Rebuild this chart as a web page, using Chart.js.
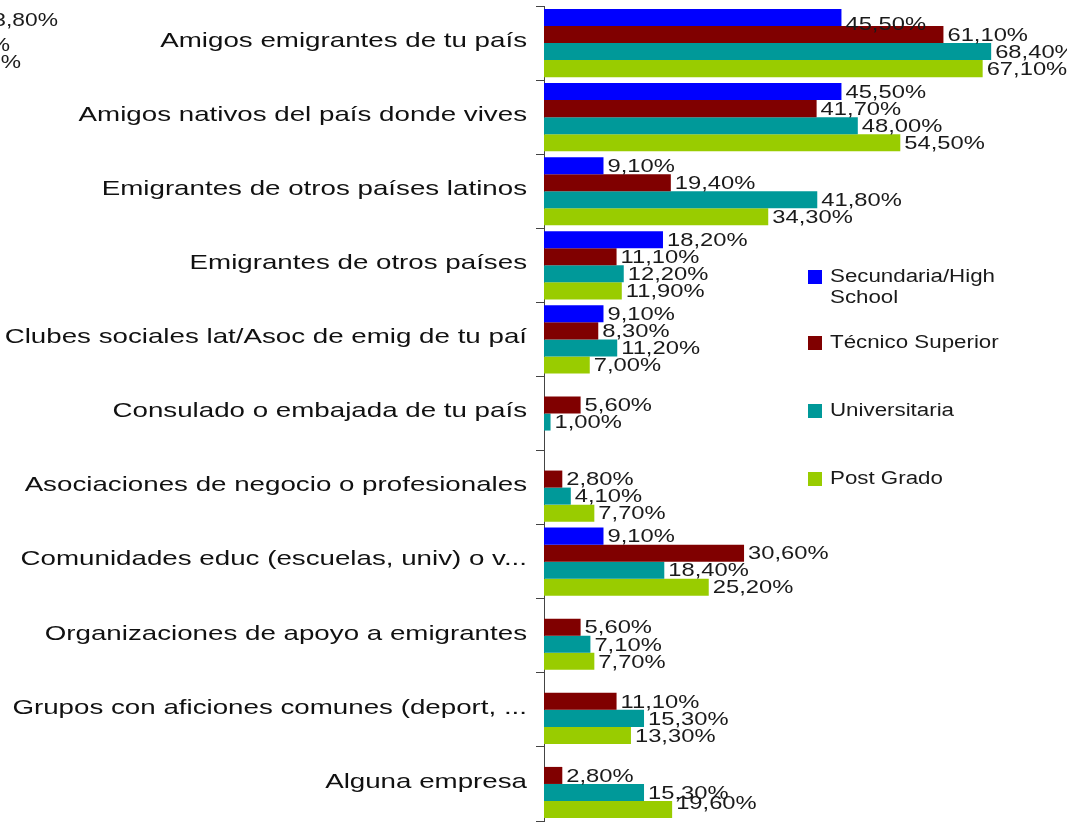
<!DOCTYPE html>
<html>
<head>
<meta charset="utf-8">
<script src="https://cdn.jsdelivr.net/npm/chart.js@4/dist/chart.umd.min.js"></script>
<style>
  html, body { margin: 0; padding: 0; background: #fff; }
  #wrap { width: 1067px; height: 822px; position: relative; }
</style>
</head>
<body>
<div id="wrap"><canvas id="chart"></canvas></div>
<script>
const categories = [
  'Amigos emigrantes de tu país',
  'Amigos nativos del país donde vives',
  'Emigrantes de otros países latinos',
  'Emigrantes de otros países',
  'Clubes sociales lat/Asoc de emig de tu paí',
  'Consulado o embajada de tu país',
  'Asociaciones de negocio o profesionales',
  'Comunidades educ (escuelas, univ) o v...',
  'Organizaciones de apoyo a emigrantes',
  'Grupos con aficiones comunes (deport, ...',
  'Alguna empresa'
];
const seriesNames = ['Secundaria/High School', 'Técnico Superior', 'Universitaria', 'Post Grado'];
const secundaria = [45.5, 45.5, 9.1, 18.2, 9.1, 0, 0, 9.1, 0, 0, 0];
const tecnico = [61.1, 41.7, 19.4, 11.1, 8.3, 5.6, 2.8, 30.6, 5.6, 11.1, 2.8];
const universitaria = [68.4, 48.0, 41.8, 12.2, 11.2, 1.0, 4.1, 18.4, 7.1, 15.3, 15.3];
const postGrado = [67.1, 54.5, 34.3, 11.9, 7.0, 0, 7.7, 25.2, 7.7, 13.3, 19.6];
const seriesColors = ['#0000ff', '#800000', '#009999', '#99cc00'];
// stray labels cut off at the top-left edge of the original image
const strayLabels = ['3,80%', '%', '0%'];

const FONT = '"Liberation Sans", Arial, sans-serif';
const fmt = v => v.toFixed(2).replace('.', ',') + '%';

// the original text looks stretched sideways, so draw it with a x-scale
function wideText(ctx, text, x, y, sx) {
  ctx.save();
  ctx.translate(x, y);
  ctx.scale(sx, 1);
  ctx.fillText(text, 0, 0);
  ctx.restore();
}

const catLabels = {
  id: 'catLabels',
  afterDraw(chart) {
    const {ctx} = chart;
    const y = chart.scales.y;
    ctx.save();
    ctx.font = '21px ' + FONT;
    ctx.fillStyle = '#111';
    ctx.textAlign = 'right';
    ctx.textBaseline = 'middle';
    chart.data.labels.forEach((lab, i) => {
      wideText(ctx, lab, 527, y.getPixelForValue(i) - 2, 1.32);
    });
    ctx.restore();
  }
};

const valueLabels = {
  id: 'valueLabels',
  afterDatasetsDraw(chart) {
    const {ctx} = chart;
    ctx.save();
    ctx.font = '19px ' + FONT;
    ctx.fillStyle = '#1a1a1a';
    ctx.textAlign = 'left';
    ctx.textBaseline = 'middle';
    chart.data.datasets.forEach((ds, i) => {
      chart.getDatasetMeta(i).data.forEach((bar, j) => {
        const v = ds.data[j];
        if (!v) return;
        // keep labels inside the picture, like the original does
        const ly = Math.min(Math.max(bar.y + 1, 25), chart.height - 18);
        wideText(ctx, fmt(v), bar.x + 4, ly, 1.25);
      });
    });
    ctx.textAlign = 'right';
    wideText(ctx, strayLabels[0], 58, 21, 1.2);
    wideText(ctx, strayLabels[1], 10, 46, 1.2);
    wideText(ctx, strayLabels[2], 21, 63, 1.2);
    ctx.restore();
  }
};

const sideLegend = {
  id: 'sideLegend',
  afterDraw(chart) {
    const {ctx} = chart;
    const rows = [
      {lines: ['Secundaria/High', 'School'], y: 277},
      {lines: ['Técnico Superior'], y: 343},
      {lines: ['Universitaria'], y: 411},
      {lines: ['Post Grado'], y: 479}
    ];
    ctx.save();
    ctx.font = '18px ' + FONT;
    ctx.textBaseline = 'middle';
    ctx.textAlign = 'left';
    rows.forEach((r, i) => {
      ctx.fillStyle = chart.data.datasets[i].backgroundColor;
      ctx.fillRect(808, r.y - 7, 14, 14);
      ctx.fillStyle = '#1a1a1a';
      r.lines.forEach((t, k) => wideText(ctx, t, 830, r.y + k * 21, 1.24));
    });
    ctx.restore();
  }
};

new Chart(document.getElementById('chart'), {
  type: 'bar',
  data: {
    labels: categories,
    datasets: [secundaria, tecnico, universitaria, postGrado].map((d, i) => ({
      label: seriesNames[i],
      data: d,
      backgroundColor: seriesColors[i],
      borderWidth: 0,
      categoryPercentage: 0.92,
      barPercentage: 1.0
    }))
  },
  options: {
    indexAxis: 'y',
    responsive: true,
    maintainAspectRatio: false,
    animation: false,
    layout: {padding: {top: 6, bottom: 1, left: 0, right: 0}},
    plugins: {
      legend: {display: false},
      title: {display: false},
      tooltip: {enabled: false}
    },
    scales: {
      x: {
        min: 0,
        max: 80,
        display: false
      },
      y: {
        afterFit(scale) { scale.width = 544; },
        ticks: {display: false},
        grid: {
          display: true,
          offset: true,
          drawOnChartArea: false,
          tickLength: 8,
          color: '#444'
        },
        border: {display: true, color: '#444', width: 1}
      }
    }
  },
  plugins: [valueLabels, sideLegend, catLabels]
});
</script>
</body>
</html>
